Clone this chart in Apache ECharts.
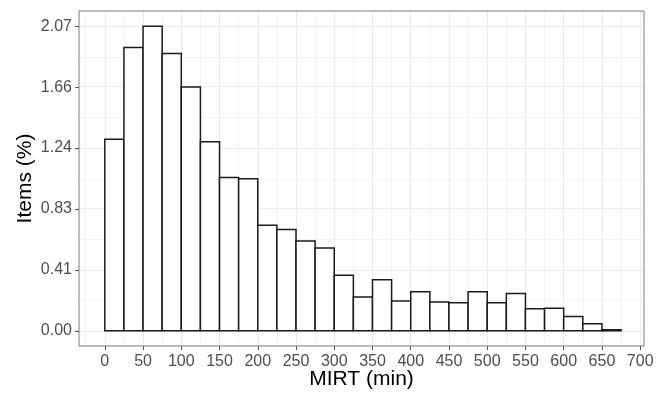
<!DOCTYPE html>
<html>
<head>
<meta charset="utf-8">
<script src="https://cdn.jsdelivr.net/npm/echarts@6/dist/echarts.min.js"></script>
<style>
html,body{margin:0;padding:0;background:#fff;}
#chart{width:664px;height:393px;}
</style>
</head>
<body>
<div id="chart"></div>
<script>
// Histogram bins (MIRT, minutes)
const binStarts = [0,25,50,75,100,125,150,175,200,225,250,275,300,325,350,375,400,425,450,475,500,525,550,575,600,625,650];
const binWidth = 25;
// Items (%) per bin
const itemsPct = [1.301,1.926,2.070,1.885,1.657,1.285,1.041,1.034,0.718,0.688,0.610,0.562,0.377,0.230,0.346,0.203,0.266,0.196,0.190,0.266,0.190,0.253,0.149,0.153,0.097,0.047,0.007];
// Axis ticks
const xTicks = [0,50,100,150,200,250,300,350,400,450,500,550,600,650,700];
const xMinor = [-25,25,75,125,175,225,275,325,375,425,475,525,575,625,675];
const yTicks = [0,0.414,0.828,1.242,1.656,2.07];
const yMinor = [0.207,0.621,1.035,1.449,1.863];

const font = "'Liberation Sans', Arial, Helvetica, sans-serif";
const gridColor = '#ebebeb';

const histData = binStarts.map((s, i) => [s, s + binWidth, itemsPct[i]]);

const chart = echarts.init(document.getElementById('chart'), null, {renderer: 'canvas'});

const markLineData = []
  .concat(xMinor.map(v => ({xAxis: v, lineStyle: {width: 0.6}})))
  .concat(yMinor.map(v => ({yAxis: v, lineStyle: {width: 0.6}})))
  .concat(xTicks.map(v => ({xAxis: v, lineStyle: {width: 1.1}})))
  .concat(yTicks.map(v => ({yAxis: v, lineStyle: {width: 1.1}})));

chart.setOption({
  animation: false,
  backgroundColor: '#ffffff',
  grid: {left: 79, right: 20, top: 11, bottom: 47, outerBoundsMode: 'none', containLabel: false,
    show: true, borderColor: '#7a7a7a', borderWidth: 1, backgroundColor: 'transparent', z: 20},
  xAxis: {
    type: 'value', min: -33.75, max: 705,
    name: 'MIRT (min)', nameLocation: 'middle', nameGap: 23, nameMoveOverlap: false,
    nameTextStyle: {fontFamily: font, fontSize: 21, color: '#000'},
    axisLine: {show: false, onZero: false},
    splitLine: {show: false},
    axisTick: {show: true, length: 4, customValues: xTicks, lineStyle: {color: '#4d4d4d', width: 1}},
    axisLabel: {customValues: xTicks, fontFamily: font, fontSize: 16, color: '#4d4d4d', margin: 8}
  },
  yAxis: {
    type: 'value', min: -0.1035, max: 2.1735,
    name: 'Items (%)', nameLocation: 'middle', nameGap: 43, nameMoveOverlap: false,
    nameTextStyle: {fontFamily: font, fontSize: 21, color: '#000'},
    axisLine: {show: false, onZero: false},
    splitLine: {show: false},
    axisTick: {show: true, length: 4, customValues: yTicks, lineStyle: {color: '#4d4d4d', width: 1}},
    axisLabel: {customValues: yTicks, fontFamily: font, fontSize: 16, color: '#4d4d4d', margin: 7,
      formatter: v => v.toFixed(2)}
  },
  series: [
    {
      type: 'line', data: [], silent: true, z: 1,
      markLine: {
        silent: true, symbol: ['none', 'none'], animation: false,
        label: {show: false},
        lineStyle: {color: gridColor, type: 'solid'},
        emphasis: {disabled: true},
        data: markLineData
      }
    },
    {
      type: 'custom', z: 10,
      data: histData,
      renderItem: function (params, api) {
        const p0 = api.coord([api.value(0), api.value(2)]);
        const p1 = api.coord([api.value(1), 0]);
        return {
          type: 'rect',
          z2: 100,
          shape: {x: p0[0], y: p0[1], width: p1[0] - p0[0], height: p1[1] - p0[1]},
          style: {fill: '#ffffff', stroke: '#1a1a1a', lineWidth: 1.5}
        };
      }
    }
  ]
});
</script>
</body>
</html>
